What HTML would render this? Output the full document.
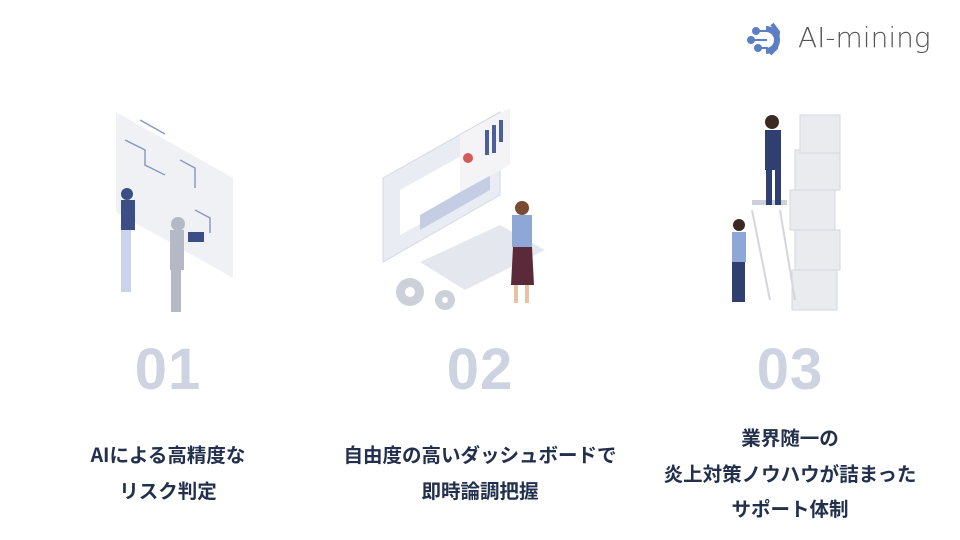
<!DOCTYPE html>
<html><head><meta charset="utf-8"><style>
body{margin:0;width:960px;height:540px;background:#fff;position:relative;overflow:hidden;font-family:"Liberation Sans","Noto Sans CJK JP",sans-serif}
.num{position:absolute;top:336px;width:200px;text-align:center;font-size:58px;font-weight:bold;color:#cdd3e0;letter-spacing:1px}
.t{position:absolute;width:340px;text-align:center;font-size:19.5px;font-weight:bold;color:#22304d;line-height:35.5px;font-family:"Noto Sans CJK JP",sans-serif}
.logo{position:absolute;left:798px;top:21px;font-size:28px;color:#555;font-family:"DejaVu Sans","Liberation Sans",sans-serif;font-weight:300}
</style></head><body>
<svg style="position:absolute;left:0;top:0" width="960" height="540">
<g fill="#5b7ec4"><circle cx="756" cy="31" r="4"/><circle cx="751" cy="40" r="4"/><circle cx="758" cy="48" r="4"/>
<path d="M766 26 a14 14 0 0 1 0 28 l0 -6 a8 8 0 0 0 0 -16z"/><path d="M772 24 l6 8 l-2 16 l-6 6" fill="none" stroke="#5b7ec4" stroke-width="4"/>
<rect x="756" y="30" width="12" height="2"/><rect x="751" y="39" width="16" height="2"/><rect x="758" y="47" width="10" height="2"/></g>
<polygon points="116,112 233,178 233,278 116,212" fill="#f0f1f4"/>
<g stroke="#8a9bc4" stroke-width="1.5" fill="none"><path d="M125 140 l20 10 l0 15 l20 10"/><path d="M180 160 l15 8 l0 20"/><path d="M195 210 l15 8 l0 15"/><path d="M140 120 l25 14"/></g>
<g fill="#3b4f86"><rect x="121" y="200" width="14" height="30"/><circle cx="127" cy="194" r="6"/><rect x="121" y="230" width="10" height="62" fill="#c9d4ea"/></g>
<g fill="#b5b9c6"><rect x="170" y="230" width="14" height="40"/><circle cx="178" cy="224" r="7"/><rect x="171" y="270" width="10" height="42"/><rect x="188" y="232" width="16" height="10" fill="#3b4f86"/></g>
<polygon points="383,178 500,112 500,195 383,262" fill="#e9edf3" stroke="#d3d8e2"/>
<polygon points="400,190 490,140 490,185 400,235" fill="#fff"/>
<polygon points="420,215 490,175 490,190 420,230" fill="#c4cde4"/>
<polygon points="460,135 510,108 510,165 460,192" fill="#f4f4f6"/>
<g fill="#4c5f99"><rect x="485" y="130" width="4" height="25"/><rect x="492" y="125" width="4" height="28"/><rect x="499" y="120" width="4" height="22"/></g>
<circle cx="468" cy="158" r="5" fill="#d45a5a"/>
<polygon points="420,262 500,225 545,250 465,290" fill="#e4e7ee"/>
<g fill="#ccd0d8"><circle cx="410" cy="292" r="14"/><circle cx="445" cy="300" r="10"/></g>
<g fill="#fff"><circle cx="410" cy="292" r="5"/><circle cx="445" cy="300" r="3"/></g>
<rect x="512" y="215" width="20" height="32" fill="#8fa7d6"/><circle cx="522" cy="208" r="7" fill="#7a4a32"/>
<polygon points="513,247 532,247 534,285 511,285" fill="#5a2a3a"/>
<rect x="514" y="285" width="4" height="18" fill="#e9c2a6"/><rect x="525" y="285" width="4" height="18" fill="#e9c2a6"/>
<g fill="#e9ebee" stroke="#d4d7dd"><rect x="792" y="270" width="45" height="40"/><rect x="795" y="230" width="45" height="40"/><rect x="790" y="190" width="45" height="40"/><rect x="795" y="150" width="45" height="40"/><rect x="800" y="115" width="40" height="38"/></g>
<g stroke="#d3d6dc" stroke-width="2"><line x1="752" y1="210" x2="770" y2="300"/><line x1="780" y1="210" x2="795" y2="300"/></g>
<rect x="752" y="200" width="35" height="5" fill="#ccd0d8"/>
<g fill="#2f3f72"><rect x="765" y="130" width="16" height="40"/><rect x="766" y="170" width="6" height="35"/><rect x="775" y="170" width="6" height="35"/></g>
<circle cx="772" cy="122" r="7" fill="#3a2a22"/>
<rect x="732" y="232" width="14" height="30" fill="#8fa7d6"/><circle cx="739" cy="225" r="6" fill="#3a2a22"/>
<rect x="732" y="262" width="13" height="40" fill="#2f3f72"/>
</svg>
<div class="logo">AI-mining</div>
<div class="num" style="left:68px">01</div>
<div class="num" style="left:380px">02</div>
<div class="num" style="left:690px">03</div>
<div class="t" style="left:-2px;top:436px">AIによる高精度な<br>リスク判定</div>
<div class="t" style="left:310px;top:436px">自由度の高いダッシュボードで<br>即時論調把握</div>
<div class="t" style="left:620px;top:419px">業界随一の<br>炎上対策ノウハウが詰まった<br>サポート体制</div>
</body></html>
